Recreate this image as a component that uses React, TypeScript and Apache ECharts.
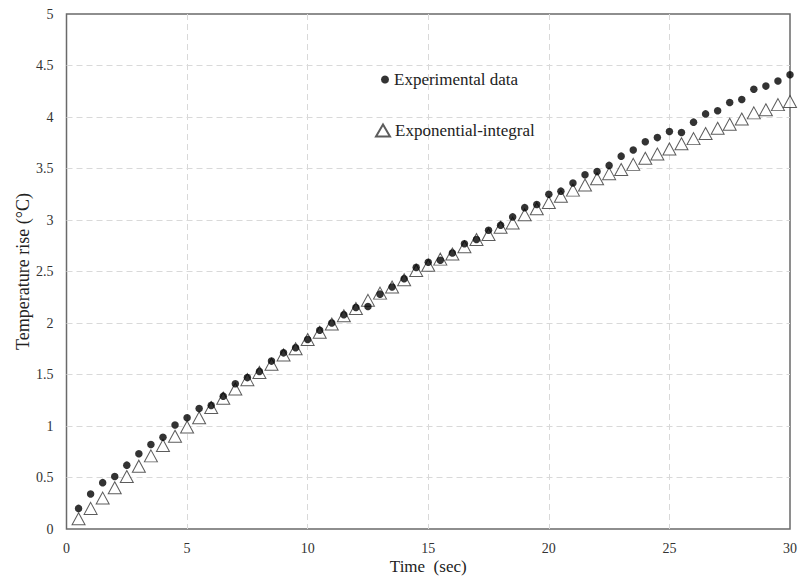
import React, { useEffect, useRef } from "react";
import * as echarts from "echarts";

const times: number[] = [
  0.5, 1, 1.5, 2, 2.5, 3, 3.5, 4, 4.5, 5, 5.5, 6, 6.5, 7, 7.5, 8, 8.5, 9, 9.5, 10,
  10.5, 11, 11.5, 12, 12.5, 13, 13.5, 14, 14.5, 15, 15.5, 16, 16.5, 17, 17.5, 18, 18.5, 19, 19.5, 20,
  20.5, 21, 21.5, 22, 22.5, 23, 23.5, 24, 24.5, 25, 25.5, 26, 26.5, 27, 27.5, 28, 28.5, 29, 29.5, 30,
];

const experimental: number[] = [
  0.2, 0.34, 0.45, 0.51, 0.62, 0.73, 0.82, 0.89, 1.01, 1.08, 1.17, 1.2, 1.29, 1.41, 1.47, 1.53, 1.63, 1.71, 1.76, 1.84,
  1.93, 2.0, 2.08, 2.15, 2.16, 2.28, 2.35, 2.43, 2.54, 2.59, 2.61, 2.68, 2.77, 2.81, 2.9, 2.95, 3.03, 3.12, 3.15, 3.25,
  3.28, 3.36, 3.44, 3.47, 3.53, 3.62, 3.68, 3.76, 3.8, 3.86, 3.85, 3.95, 4.03, 4.06, 4.14, 4.17, 4.27, 4.3, 4.35, 4.41,
];

const exponentialIntegral: number[] = [
  0.1, 0.2, 0.3, 0.4, 0.51, 0.61, 0.71, 0.81, 0.9, 0.99, 1.08, 1.18, 1.27, 1.36, 1.45, 1.52, 1.6, 1.69, 1.75, 1.84,
  1.91, 1.99, 2.07, 2.14, 2.22, 2.29, 2.35, 2.42, 2.51, 2.56, 2.62, 2.67, 2.74, 2.81, 2.86, 2.93, 2.97, 3.05, 3.11, 3.17,
  3.23, 3.29, 3.34, 3.4, 3.45, 3.49, 3.54, 3.6, 3.64, 3.69, 3.74, 3.79, 3.84, 3.89, 3.93, 3.98, 4.04, 4.07, 4.12, 4.15,
];

const SERIES_EXP = "Experimental data";
const SERIES_EI = "Exponential-integral";
const X_NAME = "Time  (sec)";
const Y_NAME = "Temperature rise (°C)";

const FONT = "'Liberation Serif', 'Times New Roman', serif";

export default function App() {
  const ref = useRef<HTMLDivElement>(null);

  useEffect(() => {
    if (!ref.current) return;
    const chart = echarts.init(ref.current, undefined, { renderer: "svg" });
    const exData = times.map((t, i) => [t, experimental[i]]);
    const eiData = times.map((t, i) => [t, exponentialIntegral[i]]);

    const split = {
      show: true,
      showMinLine: false,
      showMaxLine: false,
      lineStyle: { color: "#d9d9d9", type: [6, 4], width: 1 },
    };

    chart.setOption({
      animation: false,
      backgroundColor: "#ffffff",
      textStyle: { fontFamily: FONT },
      grid: {
        left: 66.5,
        right: 9,
        top: 14,
        bottom: 48,
        outerBoundsMode: "none",
        containLabel: false,
        show: true,
        borderColor: "#6a6a6a",
        borderWidth: 1.5,
        backgroundColor: "transparent",
      },
      legend: [
        {
          data: [{ name: SERIES_EXP, icon: "circle" }],
          left: 381,
          top: 71,
          padding: 0,
          itemWidth: 8,
          itemHeight: 8,
          textStyle: { fontFamily: FONT, fontSize: 17, color: "#222" },
          selectedMode: false,
        },
        {
          data: [{ name: SERIES_EI, icon: "triangle" }],
          left: 375,
          top: 122,
          padding: 0,
          itemWidth: 14,
          itemHeight: 12,
          textStyle: { fontFamily: FONT, fontSize: 17, color: "#222" },
          selectedMode: false,
        },
      ],
      xAxis: {
        type: "value",
        min: 0,
        max: 30,
        interval: 5,
        name: X_NAME,
        nameLocation: "middle",
        nameGap: 29,
        nameMoveOverlap: false,
        nameTextStyle: { fontFamily: FONT, fontSize: 17, color: "#222" },
        axisLine: { show: false },
        axisTick: { show: false },
        axisLabel: { fontFamily: FONT, fontSize: 14, color: "#333", margin: 12 },
        splitLine: split,
      },
      yAxis: {
        type: "value",
        min: 0,
        max: 5,
        interval: 0.5,
        name: Y_NAME,
        nameLocation: "middle",
        nameGap: 35,
        nameMoveOverlap: false,
        nameTextStyle: { fontFamily: FONT, fontSize: 18, color: "#222" },
        axisLine: { show: false },
        axisTick: { show: false },
        axisLabel: { fontFamily: FONT, fontSize: 14, color: "#333", margin: 13 },
        splitLine: split,
      },
      series: [
        {
          name: SERIES_EI,
          type: "scatter",
          symbol: "triangle",
          symbolSize: [13, 12],
          data: eiData,
          itemStyle: { color: "#ffffff", borderColor: "#333333", borderWidth: 1 },
        },
        {
          name: SERIES_EXP,
          type: "scatter",
          symbol: "circle",
          symbolSize: 7.5,
          data: exData,
          itemStyle: { color: "#000000" },
        },
      ],
    });

    return () => chart.dispose();
  }, []);

  return <div ref={ref} style={{ position: "fixed", left: 0, top: 0, width: 799, height: 577 }} />;
}
